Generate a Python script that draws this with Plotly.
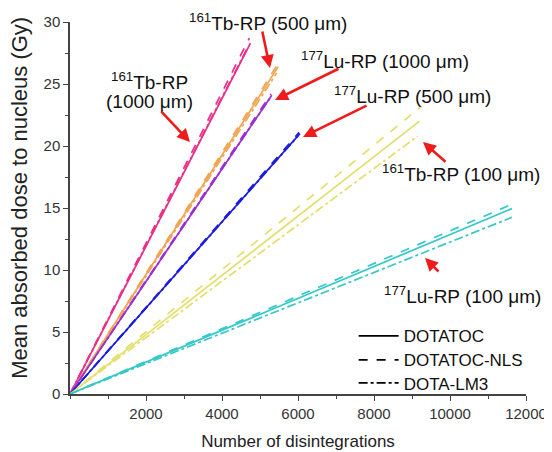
import plotly.graph_objects as go

# ---- data ----
series = ["Tb1000", "Tb500", "Lu1000", "Lu500", "Tb100", "Lu100"]
colors = ["#EA2E88", "#F0A552", "#9A2FD2", "#1C1CE0", "#E4DE6C", "#35C8C8"]

# end point of each line (start is the origin): number of disintegrations, dose (Gy)
n_dotatoc = [4750, 5480, 5310, 6050, 9200, 11630]
d_dotatoc = [28.3, 26.4, 24.1, 21.0, 22.0, 14.95]
n_nls = [4720, 5530, 5290, 6030, 9250, 11630]
d_nls = [28.7, 26.9, 24.2, 21.1, 23.2, 15.3]
n_lm3 = [4650, 5440, 5270, 6000, 9150, 11630]
d_lm3 = [27.8, 25.9, 23.9, 20.8, 20.8, 14.25]

compounds = ["DOTATOC", "DOTATOC-NLS", "DOTA-LM3"]
dashes = ["solid", "dash", "dashdot"]

x_ticks = [2000, 4000, 6000, 8000, 10000, 12000]
x_tick_text = ["2000", "4000", "6000", "8000", "10000", "12000"]
y_ticks = [0, 5, 10, 15, 20, 25, 30]

# label texts and their positions (data)
labels = [
    "<sup>161</sup>Tb-RP",
    "(1000 μm)",
    "<sup>161</sup>Tb-RP (500 μm)",
    "<sup>177</sup>Lu-RP (1000 μm)",
    "<sup>177</sup>Lu-RP (500 μm)",
    "<sup>161</sup>Tb-RP (100 μm)",
    "<sup>177</sup>Lu-RP (100 μm)",
]
label_x = [2080, 2105, 5211, 8289, 9000, 10289, 10316]
label_y = [25.25, 23.6, 30.0, 26.9, 24.1, 17.8, 8.0]

# arrows: tip (data), tail offset (px)
tip_x = [3158, 5263, 5395, 6132, 9289, 9342]
tip_y = [20.32, 26.29, 23.71, 20.73, 20.32, 10.97]
tail_dx = [-30, -8, 65, 65, 24, 15]
tail_dy = [-32, -38, -32, -32, 21, 15]

FONT = "Liberation Sans, Arial, sans-serif"

fig = go.Figure()
ends = [(n_dotatoc, d_dotatoc), (n_nls, d_nls), (n_lm3, d_lm3)]
for k, (nn, dd) in enumerate(ends):
    for i, s in enumerate(series):
        fig.add_trace(go.Scatter(
            x=[0, nn[i]], y=[0, dd[i]], mode="lines",
            line=dict(color=colors[i], width=1.7, dash=dashes[k]),
            showlegend=False, hoverinfo="skip"))

legend_ids = ["legend", "legend2", "legend3"]
legend_tops = [0.2035, 0.139, 0.077]
for k, c in enumerate(compounds):
    fig.add_trace(go.Scatter(
        x=[None], y=[None], mode="lines", name=c, legend=legend_ids[k],
        line=dict(color="black", width=1.8, dash=dashes[k])))

for i in range(len(labels)):
    fig.add_annotation(x=label_x[i], y=label_y[i], text=labels[i], showarrow=False,
                       font=dict(family=FONT, size=19, color="#111"),
                       xanchor="center", yanchor="middle")
for i in range(len(tip_x)):
    fig.add_annotation(x=tip_x[i], y=tip_y[i], text="", showarrow=True,
                       ax=tail_dx[i], ay=tail_dy[i], arrowhead=2, arrowsize=1,
                       arrowwidth=2.6, arrowcolor="#EE1C1C", standoff=0)

# y axis title (drawn as a rotated annotation so it can sit slightly above centre)
fig.add_annotation(xref="paper", yref="paper", x=-0.11, y=0.527,
                   text="Mean absorbed dose to nucleus (Gy)", textangle=-90,
                   showarrow=False, xanchor="center", yanchor="middle",
                   font=dict(family=FONT, size=22, color="#222"))

axis_common = dict(showline=True, linecolor="#444", linewidth=1.5, ticks="outside",
                   ticklen=5, tickwidth=1.3, tickcolor="#444", showgrid=False,
                   zeroline=False, automargin=False,
                   tickfont=dict(family=FONT, size=15, color="#333"))

fig.update_xaxes(range=[0, 12000], tickvals=x_ticks, ticktext=x_tick_text,
                 minor=dict(ticks="outside", ticklen=3, dtick=1000, tickcolor="#444"),
                 title=dict(text="Number of disintegrations", standoff=14,
                            font=dict(family=FONT, size=17, color="#222")),
                 **axis_common)
fig.update_yaxes(range=[0, 30], tickvals=y_ticks,
                 minor=dict(ticks="outside", ticklen=3, dtick=2.5, tickcolor="#444"),
                 **axis_common)

leg_common = dict(x=0.622, xanchor="left", yanchor="top",
                  font=dict(family=FONT, size=17, color="#111"),
                  bgcolor="rgba(0,0,0,0)", itemwidth=40)

# the page body adds an 8 px offset, so the figure is 8 px smaller each way
fig.update_layout(
    width=544, height=444,
    margin=dict(l=62, r=26, t=14, b=58),
    plot_bgcolor="white", paper_bgcolor="white",
    legend=dict(y=legend_tops[0], **leg_common),
    legend2=dict(y=legend_tops[1], **leg_common),
    legend3=dict(y=legend_tops[2], **leg_common),
)

fig.write_html("out.html")
